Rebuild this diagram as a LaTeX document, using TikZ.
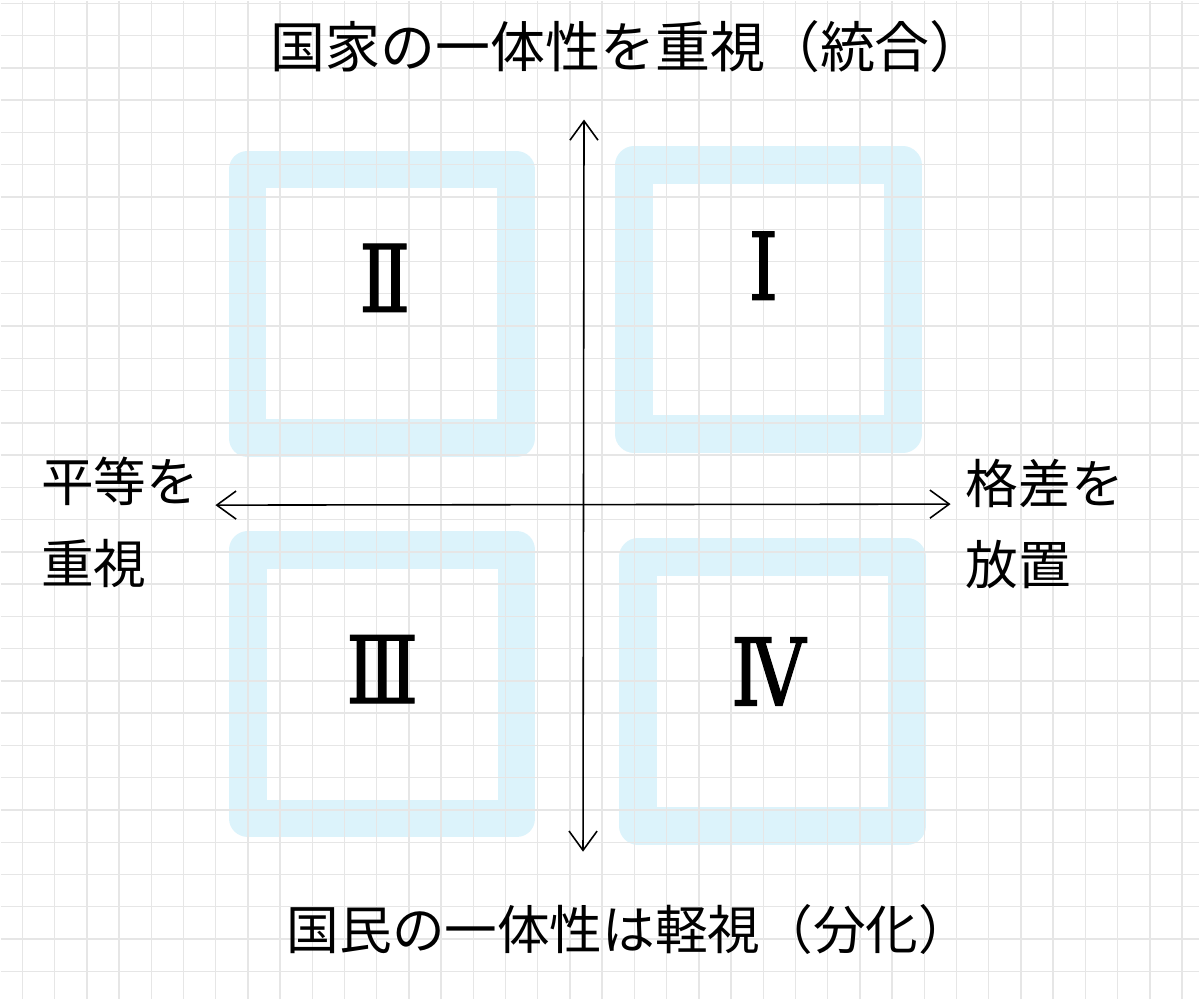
\documentclass[tikz,border=0pt]{standalone}
\usepackage{fontspec}
\newfontfamily\jpfont{Noto Sans CJK JP}
\newfontfamily\numfont[FakeBold=1.5,FakeStretch=0.8]{DejaVu Serif}
\usepackage{xcolor}
\usetikzlibrary{arrows.meta,positioning,calc}
\definecolor{quadblue}{HTML}{DCF3FB}
\definecolor{gridgray}{HTML}{E6E6E6}

\begin{document}
\begin{tikzpicture}[
  x=0.02cm, y=-0.02cm,
  font=\jpfont,
  gridline/.style={draw=gridgray, line width=0.8pt},
  quad/.style={draw=quadblue, line width=21.5pt, line join=round, inner sep=0pt,
    minimum width=5.38cm, minimum height=5.38cm},
  numeral/.style={font=\numfont\fontsize{53}{53}\selectfont, inner sep=0pt},
  heading/.style={font=\jpfont\fontsize{30}{36}\selectfont, anchor=west, inner sep=0pt},
  side/.style={font=\jpfont\fontsize{30}{46.5}\selectfont, align=left, anchor=west, inner sep=0pt},
  axis/.style={line width=0.9pt, {Straight Barb[length=11pt,width=16pt]}-{Straight Barb[length=11pt,width=16pt]}}
]
\fill[white] (0,0) rectangle (1200,999);

% quadrant frames
\node[quad] (q1) at (768.6,299.3) {};
\node[quad] (q2) at (381.6,303.5) {};
\node[quad] (q3) at (382,684.2) {};
\node[quad] (q4) at (772.6,691.5) {};

% grid paper
\foreach \i in {0,...,36}
  \draw[gridline] ({21.7+32.25*\i},0) -- ++(0,999);
\foreach \j in {0,...,30}
  \draw[gridline] (0,{2.7+32.3*\j}) -- ++(1200,0);

% axes
\coordinate (top) at (584,119);
\coordinate (bottom) at (583,852);
\coordinate (left) at (215,505);
\coordinate (right) at (951,504);
\draw[axis] (bottom) -- (top);
\draw[axis] (left) -- (right);

% numerals
\node[numeral] (n1) at ($(q1.center)+(-5,-34)$) {Ⅰ};
\node[numeral] (n2) at ($(q2.center)+(3,-26)$) {Ⅱ};
\node[numeral] (n3) at ($(q3.center)+(0,-15)$) {Ⅲ};
\node[numeral] (n4) at ($(q4.center)+(-4,-20)$) {Ⅳ};

% axis labels
\node[heading, font=\jpfont\fontsize{31.3}{36}\selectfont] (integ) at (270,46) {国家の一体性を重視（統合）};
\node[heading] (divis) at (286,930) {国民の一体性は軽視（分化）};
\node[side] (equal) at (40,522) {平等を\\重視};
\node[side] (gap) at (966,524) {格差を\\放置};

\end{tikzpicture}
\end{document}
